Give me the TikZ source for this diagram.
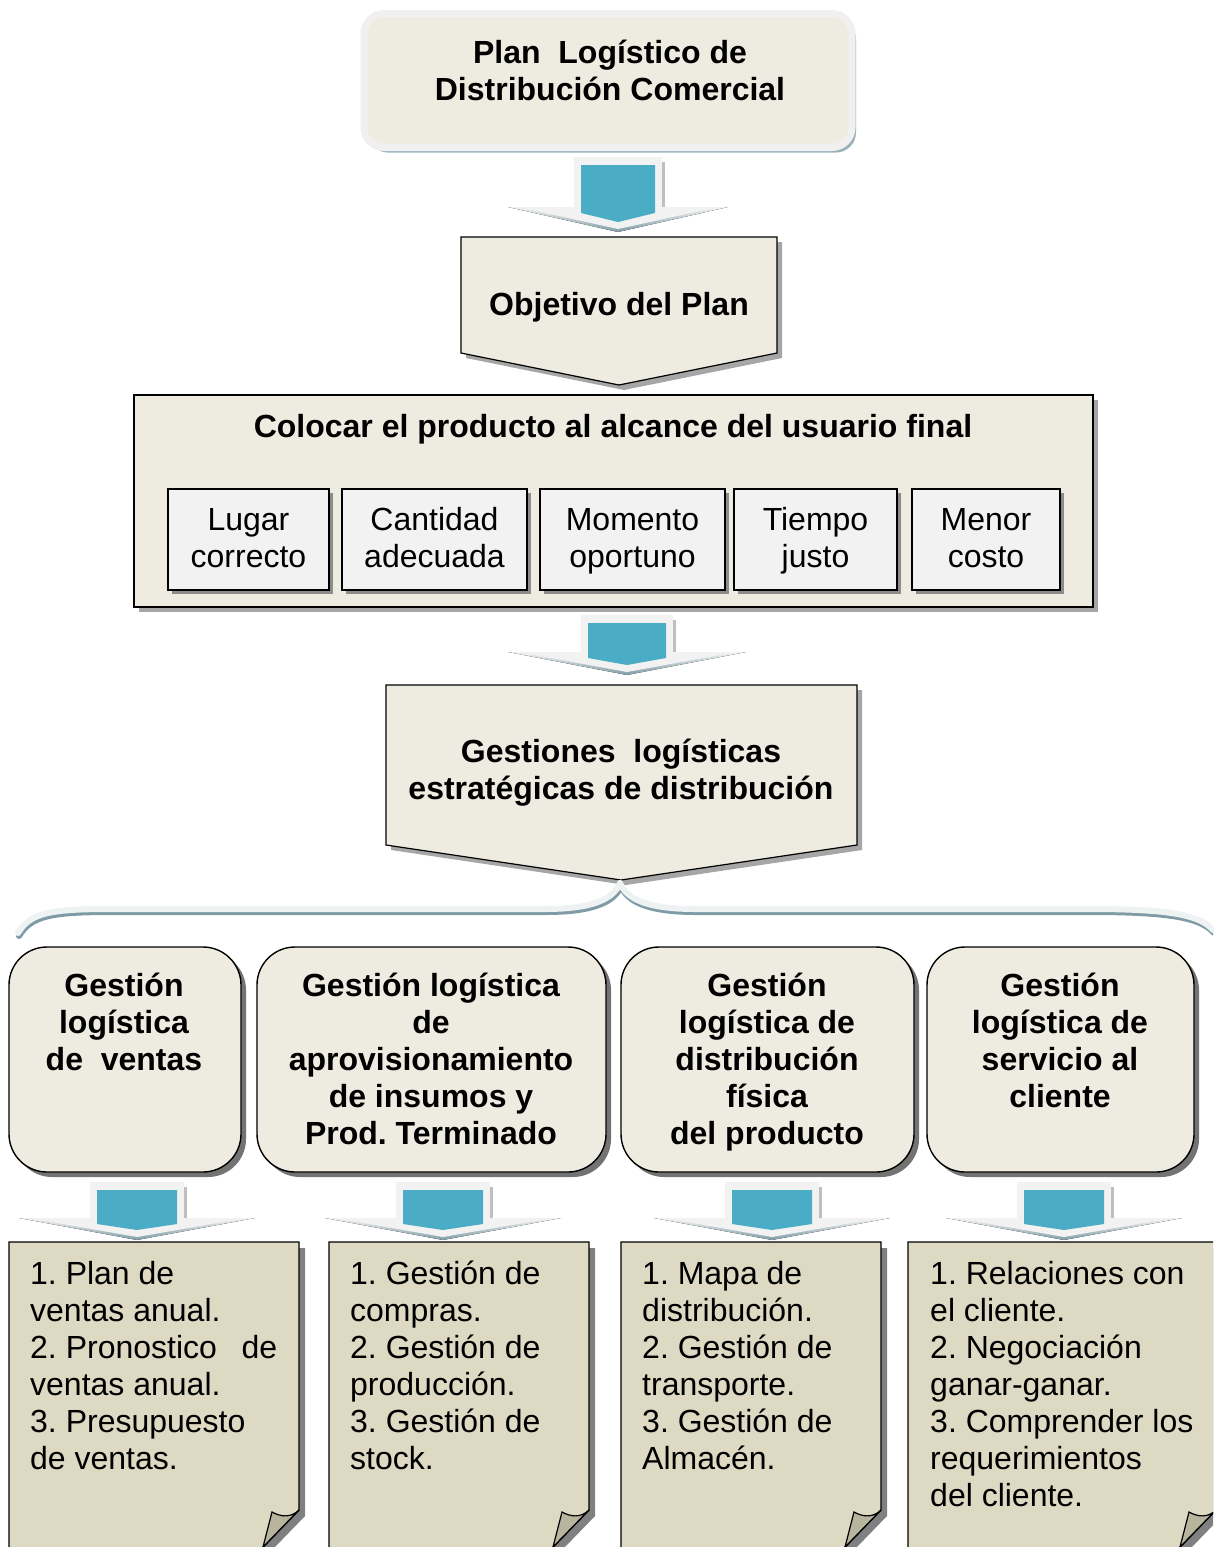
\documentclass[tikz,border=0pt]{standalone}
\usepackage{fontspec}
\setmainfont{Liberation Sans}
\usetikzlibrary{shadows}
\frenchspacing

\definecolor{beige}{HTML}{EEECE1}
\definecolor{beigedark}{HTML}{DDD9C3}
\definecolor{foldgray}{HTML}{B8B49E}
\definecolor{boxgray}{HTML}{F2F2F2}
\definecolor{ringgray}{HTML}{F0F0F0}
\definecolor{arrowblue}{HTML}{4BACC6}
\definecolor{bevel}{HTML}{F2F2F2}
\definecolor{bevelshade}{HTML}{7F9CA6}
\definecolor{haze}{HTML}{8FA8B2}
\definecolor{bracelight}{HTML}{EEF2F2}

% taller strut for the first line of the condition boxes
\newcommand\firststrut{\rule{0pt}{30pt}}

\tikzset{
  txt/.style={inner sep=0pt, align=center, font=\fontsize{32}{37}\selectfont},
  btxt/.style={inner sep=0pt, align=center, font=\fontsize{32}{37}\selectfont\bfseries},
  ltxt/.style={inner sep=0pt, align=left, font=\fontsize{32}{37}\selectfont, anchor=north west},
  softshadow/.style={drop shadow={shadow xshift=5pt, shadow yshift=-5pt, fill=black!35, opacity=1}},
  darkshadow/.style={drop shadow={shadow xshift=5pt, shadow yshift=-5pt, fill=black!55, opacity=1}},
  planbox/.style={rectangle, rounded corners=20pt, draw=ringgray, line width=7pt,
    fill=beige, minimum width=488pt, minimum height=134pt,
    drop shadow={shadow xshift=4pt, shadow yshift=-5pt, fill=haze, opacity=0.9}},
  pentagon/.style={draw=black, line width=1.2pt, fill=beige, softshadow},
  bigbox/.style={rectangle, draw=black, line width=1.2pt, fill=beige, softshadow,
    minimum width=959pt, minimum height=212pt},
  smallbox/.style={txt, rectangle, draw=black, line width=1.2pt, fill=boxgray,
    drop shadow={shadow xshift=4pt, shadow yshift=-4pt, fill=black!45, opacity=1},
    minimum height=101pt},
  roundbox/.style={rectangle, rounded corners=38pt, draw=black, line width=1.4pt,
    fill=beige, darkshadow, minimum height=225pt},
  notebox/.style={draw=black, line width=1.4pt, fill=beigedark,
    drop shadow={shadow xshift=6pt, shadow yshift=-6pt, fill=black!50, opacity=1}},
  foldbox/.style={draw=black, line width=1.2pt, fill=foldgray},
  bracedark/.style={draw=bevelshade, line width=6pt, line cap=round},
  bracebright/.style={draw=bracelight, line width=6pt, line cap=round}
}

% block arrow: centre x, top, wing line, tip, shaft half width, head half width
\newcommand\blockarrow[6]{%
  \fill[top color=bevel, bottom color=bevelshade]
    (#1-#6,#3) -- (#1+#6,#3) -- (#1,#4) -- cycle;
  \fill[bevel]
    (#1-#5,#2) -- (#1+#5,#2) -- (#1+#5,#3) -- (#1+#6-10,#3)
    -- (#1,#4-3) -- (#1-#6+10,#3) -- (#1-#5,#3) -- cycle;
  \fill[black!25] (#1+#5,#2+5) rectangle (#1+#5+3,#3);
  \fill[arrowblue]
    (#1-#5+7,#2+8) -- (#1+#5-7,#2+8) -- (#1+#5-7,#3+6)
    -- (#1,#4-10) -- (#1-#5+7,#3+6) -- cycle;
}

% note sheet with a curled lower right corner: left edge, right edge
\newcommand\notesheet[2]{%
  \draw[notebox] (#1,1575) -- (#1,1242) -- (#2,1242) -- (#2,1510)
    -- (#2-63,1575) -- cycle;
  \draw[foldbox] (#2,1510) .. controls (#2-8,1518) and (#2-18,1517) .. (#2-27,1512)
    -- (#2-36,1547) -- cycle;
}

\begin{document}
\begin{tikzpicture}[x=1pt, y=-1pt]
\useasboundingbox (0,0) rectangle (1213,1547);
\clip (0,0) rectangle (1213,1547);

% title
\node[planbox] (plan) at (608,80.5) {};
\node[btxt, anchor=north] (plantxt) at (610,40) {Plan\ \ Logístico de\\Distribución Comercial};

\blockarrow{618}{157}{207}{232}{44}{110}

% objective
\draw[pentagon] (461,237) -- (777,237) -- (777,353) -- (619,385) -- (461,353) -- cycle;
\node[btxt, anchor=north] (objtxt) at (619,292) {Objetivo del Plan};

% goal with its five conditions
\node[bigbox] (goal) at (613.5,501) {};
\node[btxt, anchor=north] (goaltxt) at (613,414) {Colocar el producto al alcance del usuario final};
\node[smallbox, minimum width=161pt] (lugar) at (248.5,539.5) {\firststrut Lugar\\\strut correcto};
\node[smallbox, minimum width=185pt] (cantidad) at (434.5,539.5) {\firststrut Cantidad\\\strut adecuada};
\node[smallbox, minimum width=185pt] (momento) at (632.5,539.5) {\firststrut Momento\\\strut oportuno};
\node[smallbox, minimum width=163pt] (tiempo) at (815.5,539.5) {\firststrut Tiempo\\\strut justo};
\node[smallbox, minimum width=148pt] (menor) at (986,539.5) {\firststrut Menor\\\strut costo};

\blockarrow{627}{615}{652}{675}{46}{119}

% strategic management
\draw[pentagon] (386,685) -- (857,685) -- (857,845) -- (621,880) -- (386,845) -- cycle;
\node[btxt, anchor=north] (gesttxt) at (621,739) {Gestiones\ \ logísticas\\estratégicas de distribución};

% brace
\begin{scope}[shift={(1,3)}]
\draw[bracedark] (18,933) .. controls (30,913) and (50,909) .. (110,909) -- (545,909)
  .. controls (595,909) and (614,898) .. (620,883);
\draw[bracedark] (620,883) .. controls (626,898) and (645,909) .. (695,909) -- (1090,909)
  .. controls (1170,909) and (1200,915) .. (1213,930);
\end{scope}
\draw[bracebright] (18,933) .. controls (30,913) and (50,909) .. (110,909) -- (545,909)
  .. controls (595,909) and (614,898) .. (620,883);
\draw[bracebright] (620,883) .. controls (626,898) and (645,909) .. (695,909) -- (1090,909)
  .. controls (1170,909) and (1200,915) .. (1213,930);

% four management areas
\node[roundbox, minimum width=232pt] (ventas) at (125,1059.5) {};
\node[roundbox, minimum width=349pt] (aprov) at (431.5,1059.5) {};
\node[roundbox, minimum width=293pt] (distr) at (767.5,1059.5) {};
\node[roundbox, minimum width=267pt] (serv) at (1060.5,1059.5) {};
\node[btxt, anchor=north] (ventastxt) at (124,973) {Gestión\\logística\\de\ \ ventas};
\node[btxt, anchor=north] (aprovtxt) at (431,973) {Gestión logística\\de\\aprovisionamiento\\de insumos y\\Prod. Terminado};
\node[btxt, anchor=north] (distrtxt) at (767,973) {Gestión\\logística de\\distribución\\física\\del producto};
\node[btxt, anchor=north] (servtxt) at (1060,973) {Gestión\\logística de\\servicio al\\cliente};

\blockarrow{137}{1182}{1218}{1240}{47}{118}
\blockarrow{443}{1182}{1218}{1240}{47}{118}
\blockarrow{772}{1182}{1218}{1240}{47}{118}
\blockarrow{1064}{1182}{1218}{1240}{47}{118}

% task lists
\notesheet{9}{299}
\notesheet{329}{589}
\notesheet{621}{881}
\notesheet{908}{1216}
\node[ltxt] (ventaslist) at (30,1261) {1. Plan de\\ventas anual.\\\hbox to 247pt{2. Pronostico\hfill de}\\ventas anual.\\3. Presupuesto\\de ventas.};
\node[ltxt] (aprovlist) at (350,1261) {1. Gestión de\\compras.\\2. Gestión de\\producción.\\3. Gestión de\\stock.};
\node[ltxt] (distrlist) at (642,1261) {1. Mapa de\\distribución.\\2. Gestión de\\transporte.\\3. Gestión de\\Almacén.};
\node[ltxt] (servlist) at (930,1261) {1. Relaciones con\\el cliente.\\2. Negociación\\ganar-ganar.\\3. Comprender los\\requerimientos\\del cliente.};
\end{tikzpicture}
\end{document}
